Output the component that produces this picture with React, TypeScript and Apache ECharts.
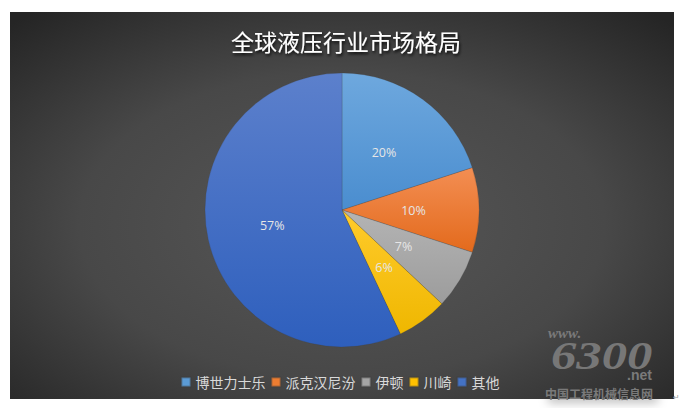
import React, { useEffect, useRef } from "react";
import * as echarts from "echarts";

const categories = ["博世力士乐", "派克汉尼汾", "伊顿", "川崎", "其他"];
const shares = [20, 10, 7, 6, 57];
const baseColors = ["#5B9BD5", "#ED7D31", "#A5A5A5", "#FFC000", "#4472C4"];
const topColors = ["#6EA8DE", "#F38E53", "#B4B4B4", "#FFCB2C", "#5C80CC"];
const bottomColors = ["#4A8DCF", "#E36A1C", "#9C9C9C", "#EFB700", "#2E5FBD"];
const titleText = "全球液压行业市场格局";

export default function App() {
  const ref = useRef<HTMLDivElement>(null);
  useEffect(() => {
    if (!ref.current) return;
    const chart = echarts.init(ref.current, undefined, { renderer: "svg" });
    const grad = (i: number) =>
      new echarts.graphic.LinearGradient(0, 0, 0, 1, [
        { offset: 0, color: topColors[i] },
        { offset: 1, color: bottomColors[i] },
      ]);
    chart.setOption({
      animation: false,
      backgroundColor: "#ffffff",
      graphic: [
        {
          type: "rect",
          z: -10,
          silent: true,
          shape: { x: 548, y: 388, width: 110, height: 10 },
          style: { fill: "#e6e6e6", shadowBlur: 10, shadowColor: "rgba(0,0,0,0.25)", shadowOffsetY: 5 },
        },
        {
          type: "rect",
          z: -9,
          silent: true,
          shape: { x: 10, y: 12, width: 664, height: 387 },
          style: {
            fill: new echarts.graphic.RadialGradient(0.5, 0.55, 0.72, [
              { offset: 0, color: "#575757" },
              { offset: 0.55, color: "#484848" },
              { offset: 1, color: "#252525" },
            ]),
          },
        },
        {
          type: "text",
          z: -5,
          silent: true,
          x: 548,
          y: 333,
          style: {
            text: "www.",
            x: 0,
            y: 0,
            textVerticalAlign: "middle",
            font: "italic bold 15px 'Liberation Serif', serif",
            fill: "#7a7a7a",
          },
        },
        {
          type: "text",
          z: -5,
          silent: true,
          x: 551,
          y: 356,
          scaleX: 1.3,
          style: {
            text: "6300",
            x: 0,
            y: 0,
            textVerticalAlign: "middle",
            font: "italic bold 39px 'Liberation Serif', serif",
            fill: "#777777",
          },
        },
        {
          type: "text",
          z: -5,
          silent: true,
          x: 627,
          y: 375,
          style: {
            text: ".net",
            x: 0,
            y: 0,
            textVerticalAlign: "middle",
            font: "bold 14px 'Liberation Sans', sans-serif",
            fill: "#7a7a7a",
          },
        },
        {
          type: "text",
          z: -5,
          silent: true,
          x: 545,
          y: 393,
          style: {
            text: "中国工程机械信息网",
            x: 0,
            y: 0,
            textVerticalAlign: "middle",
            font: "bold 12px 'Noto Sans CJK SC', sans-serif",
            fill: "#7a7a7a",
          },
        },
        {
          type: "text",
          silent: true,
          x: 673,
          y: 397,
          style: {
            text: "↵",
            x: 0,
            y: 0,
            textVerticalAlign: "middle",
            font: "8px 'DejaVu Sans', sans-serif",
            fill: "#999999",
          },
        },
      ],
      title: {
        text: titleText,
        left: 226,
        top: 24,
        textStyle: {
          color: "#ffffff",
          fontSize: 23,
          fontWeight: "normal",
          fontFamily: "'Noto Sans CJK SC', sans-serif",
          textShadowColor: "rgba(0,0,0,0.85)",
          textShadowBlur: 3,
          textShadowOffsetX: 1,
          textShadowOffsetY: 2,
        },
      },
      legend: {
        left: "center",
        top: 370,
        itemWidth: 9,
        itemHeight: 9,
        itemGap: 5,
        icon: "rect",
        textStyle: {
          color: "#d9d9d9",
          fontSize: 14,
          fontFamily: "'Noto Sans CJK SC', sans-serif",
        },
        data: categories.map((name, i) => ({ name, itemStyle: { color: baseColors[i] } })),
      },
      series: [
        {
          type: "pie",
          center: [342, 210],
          radius: 137,
          startAngle: 90,
          clockwise: true,
          avoidLabelOverlap: false,
          data: categories.map((name, i) => ({
            name,
            value: shares[i],
            itemStyle: { color: grad(i) },
          })),
          itemStyle: { borderColor: "rgba(60,60,60,0.35)", borderWidth: 0.6 },
          label: {
            show: true,
            position: "inside",
            formatter: (p: any) => `${p.value}%`,
            color: "#e6e6e6",
            fontSize: 12.5,
            fontFamily: "'Open Sans', 'Noto Sans', sans-serif",
          },
          labelLine: { show: false },
          emphasis: { disabled: true },
        },
      ],
    });
    return () => chart.dispose();
  }, []);
  return (
    <div
      ref={ref}
      style={{ position: "absolute", left: 0, top: 0, width: 680, height: 412 }}
    />
  );
}
